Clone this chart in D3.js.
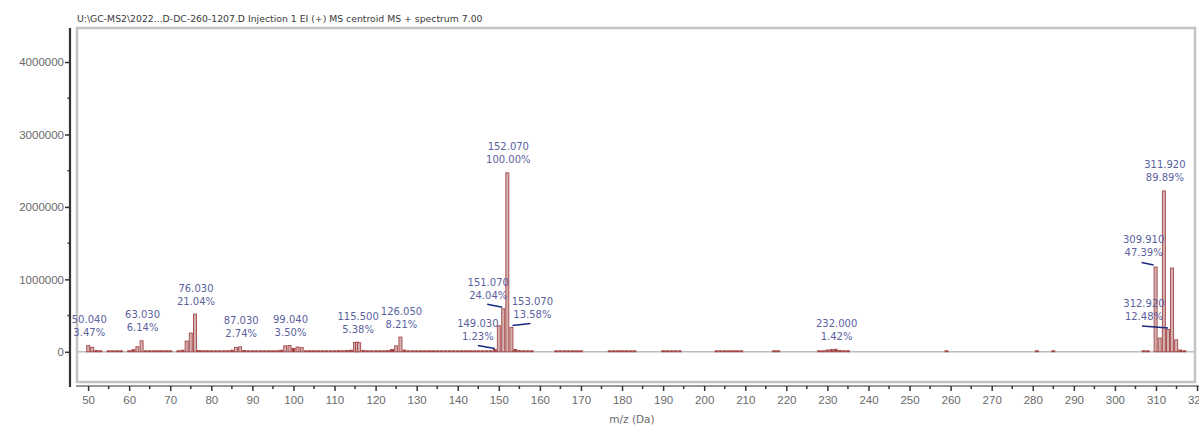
<!DOCTYPE html>
<html lang="en">
<head>
<meta charset="UTF-8">
<title>MS spectrum 7.00</title>
<script src="https://d3js.org/d3.v7.min.js"></script>
<style>
  body { margin: 0; background: #fff; }
  svg { display: block; font-family: "DejaVu Sans", Verdana, sans-serif; }
  .axis text { fill: #6a6a6a; font-size: 11.5px; }
  .axis line, .axis path { stroke: #333; }
  .peak-label { fill: #5b5f9e; font-size: 10px; text-anchor: middle; }
  .leader { stroke: #1a2a80; stroke-width: 1.5; }
</style>
</head>
<body>
<script>

// spectrum: m/z and abundance
var mzValues = [
  50.04, 51, 52, 53, 55, 56, 57, 58, 60, 61, 62, 63.03, 64, 65, 66, 67, 68, 69, 70, 72,
  73, 74, 75, 76.03, 77, 78, 79, 80, 81, 82, 83, 84, 85, 86, 87.03, 88, 89, 90, 91, 92,
  93, 94, 95, 96, 97, 98, 99.04, 100, 101, 102, 103, 104, 105, 106, 107, 108, 109, 110, 111, 112,
  113, 114, 115, 115.5, 116, 117, 118, 119, 120, 121, 122, 123, 124, 125, 126.05, 127, 128, 129, 130, 131,
  132, 133, 134, 135, 136, 137, 138, 139, 140, 141, 142, 143, 144, 145, 146, 147, 148, 149.03, 150, 151.07,
  152.07, 153.07, 154, 155, 156, 157, 158,
  164, 165, 166, 167, 168, 169, 170,
  177, 178, 179, 180, 181, 182, 183,
  190, 191, 192, 193, 194,
  203, 204, 205, 206, 207, 208, 209,
  217, 218,
  228, 229, 230, 231, 232.0, 233, 234, 235,
  259, 281, 285,
  307, 308, 309.91, 310.91, 311.92, 312.92, 313.92, 314.92, 315.92, 316.9
];
var intensities = [
  85700, 62000, 18000, 9000, 5000, 5000, 7000, 5000, 5000, 28000, 70000, 151700, 12000, 5000, 5000, 5000, 5000, 5000, 5000, 7000,
  22000, 148000, 258000, 520000, 18000, 5000, 5000, 5000, 6000, 5000, 5000, 7000, 22000, 62000, 67700, 18000, 5000, 5000, 6000, 5000,
  5000, 5000, 5000, 8000, 22000, 82000, 86500, 48000, 66000, 58000, 14000, 6000, 5000, 5000, 5000, 6000, 8000, 14000, 16000, 12000,
  18000, 22000, 128000, 132900, 125000, 20000, 6000, 5000, 6000, 8000, 12000, 16000, 32000, 82000, 202800, 24000, 6000, 5000, 5000, 5000,
  5000, 5000, 5000, 5000, 5000, 5000, 8000, 8000, 5000, 5000, 5000, 5000, 5000, 5000, 5000, 6000, 12000, 30400, 360000, 593800,
  2470000, 335400, 32000, 16000, 9000, 6000, 5000,
  4000, 4000, 4000, 4000, 4000, 4000, 4000,
  4000, 4000, 4000, 4000, 4000, 4000, 4000,
  4000, 4000, 4000, 4000, 4000,
  4000, 4000, 4000, 4000, 4000, 4000, 4000,
  4000, 4000,
  7000, 12000, 24000, 30000, 35100, 18000, 10000, 5000,
  3000, 4000, 4000,
  8000, 14000, 1170500, 190000, 2220300, 308300, 1156000, 165000, 24000, 6000
];

// annotated peaks
var labelMz = [50.04, 63.03, 76.03, 87.03, 99.04, 115.5, 126.05, 149.03, 151.07, 152.07, 153.07, 232.0, 309.91, 311.92, 312.92];
var labelPct = [3.47, 6.14, 21.04, 2.74, 3.50, 5.38, 8.21, 1.23, 24.04, 100.00, 13.58, 1.42, 47.39, 89.89, 12.48];

var yTicks = [0, 1000000, 2000000, 3000000, 4000000];
var yMinorTicks = [500000, 1500000, 2500000, 3500000];
var xTicks = [50, 60, 70, 80, 90, 100, 110, 120, 130, 140, 150, 160, 170, 180, 190, 200, 210, 220, 230, 240, 250, 260, 270, 280, 290, 300, 310, 320];
var xMinorTicks = [55, 65, 75, 85, 95, 105, 115, 125, 135, 145, 155, 165, 175, 185, 195, 205, 215, 225, 235, 245, 255, 265, 275, 285, 295, 305, 315];

var titleText = "U:\\GC-MS2\\2022...D-DC-260-1207.D Injection 1 EI (+) MS centroid MS + spectrum 7.00";

var W = 1199, H = 425;
var plot = {left: 77, right: 1195, top: 28, bottom: 382};

var x = d3.scaleLinear().domain([47.3, 319.5]).range([plot.left, plot.right]);
var y = d3.scaleLinear().domain([-417000, 4470000]).range([plot.bottom, plot.top]);

var svg = d3.select("body").append("svg")
    .attr("width", W)
    .attr("height", H);

// title
svg.append("text")
    .attr("x", plot.left)
    .attr("y", 21.5)
    .style("font-size", "9.3px")
    .style("fill", "#3a3a3a")
    .text(titleText);

// plot frame
svg.append("rect")
    .attr("x", plot.left)
    .attr("y", plot.top)
    .attr("width", plot.right - plot.left)
    .attr("height", plot.bottom - plot.top)
    .attr("fill", "#fff")
    .attr("stroke", "#c4c4c4")
    .attr("stroke-width", 2.5);

// zero line
svg.append("line")
    .attr("x1", plot.left + 1).attr("x2", plot.right - 1)
    .attr("y1", y(0)).attr("y2", y(0))
    .attr("stroke", "#bdbdbd")
    .attr("stroke-width", 1.5);

// bars
var barW = 3;
var peaks = mzValues.map(function(m, i) { return {mz: m, v: intensities[i]}; });
svg.append("g").selectAll("rect")
    .data(peaks)
    .enter().append("rect")
    .attr("x", function(d) { return x(d.mz) - barW / 2; })
    .attr("width", barW)
    .attr("y", function(d) { return Math.min(y(d.v), y(0) - 1); })
    .attr("height", function(d) { return Math.max(y(0) - y(d.v), 1); })
    .attr("fill", function(d) { return y(0) - y(d.v) < 4 ? "#a53c3c" : "#d5b1b1"; })
    .attr("stroke", "#a34646")
    .attr("stroke-width", 0.9);

// peak labels, offsets for the crowded ones
var labelShift = {
  "149.03": {dx: -17, dy: 0, lead: [-17, -4, 0, -1]},
  "151.07": {dx: -15, dy: 0, lead: [-16, -4.5, -1, -1.5]},
  "153.07": {dx: 21, dy: 0, lead: [1, -2, 19, -4]},
  "309.91": {dx: -12, dy: -1.5, lead: [-14, -4.5, -2, -2]},
  "312.92": {dx: -24, dy: 0, lead: [-26, -3.5, 0, -1.5]}
};
var labels = labelMz.map(function(m, i) {
  var idx = mzValues.indexOf(m);
  return {mz: m, pct: labelPct[i], v: intensities[idx]};
});

var lg = svg.append("g");
labels.forEach(function(d) {
  var s = labelShift[d.mz.toFixed(2)] || {dx: 1, dy: 0};
  var cx = x(d.mz) + s.dx;
  var top = y(d.v);
  lg.append("text").attr("class", "peak-label")
      .attr("x", cx).attr("y", top - 26 + 3.5 + s.dy)
      .text(d.mz.toFixed(3));
  lg.append("text").attr("class", "peak-label")
      .attr("x", cx).attr("y", top - 13 + 3.5 + s.dy)
      .text(d.pct.toFixed(2) + "%");
  if (s.lead) {
    lg.append("line").attr("class", "leader")
        .attr("x1", x(d.mz) + s.lead[0]).attr("y1", top + s.lead[1])
        .attr("x2", x(d.mz) + s.lead[2]).attr("y2", top + s.lead[3]);
  }
});

// y axis
var yAxis = d3.axisLeft(y).tickValues(yTicks).tickFormat(d3.format("d")).tickSize(5).tickPadding(1).tickSizeOuter(0);
var gy = svg.append("g")
    .attr("class", "axis")
    .attr("transform", "translate(70,0)")
    .call(yAxis);
gy.select(".domain").attr("stroke", "#333").attr("stroke-width", 2.2)
    .attr("d", "M0," + plot.top + "V" + (plot.bottom + 5));
gy.selectAll(".tick line").attr("stroke-width", 1.5);

svg.append("g")
    .attr("transform", "translate(70,0)")
    .selectAll("line")
    .data(yMinorTicks)
    .enter().append("line")
    .attr("x1", -2.5).attr("x2", 0)
    .attr("y1", function(d) { return y(d); })
    .attr("y2", function(d) { return y(d); })
    .attr("stroke", "#333")
    .attr("stroke-width", 1.5);

// x axis
var xAxis = d3.axisBottom(x).tickValues(xTicks).tickFormat(d3.format("d")).tickSize(5).tickPadding(5).tickSizeOuter(0);
var gx = svg.append("g")
    .attr("class", "axis")
    .attr("transform", "translate(0,386)")
    .call(xAxis);
gx.select(".domain").attr("stroke", "#555").attr("stroke-width", 1.2)
    .attr("d", "M" + (plot.left - 1) + ",0H" + W);
gx.selectAll(".tick line").attr("stroke-width", 1.5);

svg.append("g")
    .attr("transform", "translate(0,386)")
    .selectAll("line")
    .data(xMinorTicks)
    .enter().append("line")
    .attr("x1", function(d) { return x(d); })
    .attr("x2", function(d) { return x(d); })
    .attr("y1", 0).attr("y2", 3)
    .attr("stroke", "#333")
    .attr("stroke-width", 1.5);

svg.append("text")
    .attr("x", 632)
    .attr("y", 423)
    .attr("text-anchor", "middle")
    .style("font-size", "10.5px")
    .style("fill", "#6a6a6a")
    .text("m/z (Da)");

</script>
</body>
</html>
